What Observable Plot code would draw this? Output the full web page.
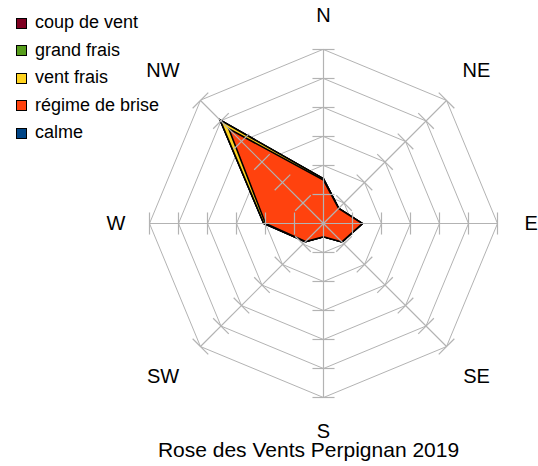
<!DOCTYPE html>
<html>
<head>
<meta charset="utf-8">
<script src="https://cdn.jsdelivr.net/npm/d3@7"></script>
<script src="https://cdn.jsdelivr.net/npm/@observablehq/plot@0.6"></script>
<style>
  body { margin: 0; background: #fff; font-family: "Liberation Sans", Arial, sans-serif; }
  #wrap { position: relative; width: 538px; height: 466px; overflow: hidden; }
  #legend { position: absolute; left: 0; top: 9px; }
  .item { position: relative; height: 27.5px; }
  .sw { position: absolute; left: 16px; top: 8.5px; width: 9px; height: 9px; border: 1px solid #000; }
  .lab { position: absolute; left: 35px; top: 0; line-height: 27.5px; font-size: 18px; color: #000; white-space: nowrap; }
  #title { position: absolute; left: 0; top: 444px; width: 617px; text-align: center; font-size: 21px; line-height: 12px; height: 22px; color: #000; white-space: nowrap; }
</style>
</head>
<body>
<div id="wrap">
  <div id="chart"></div>
  <div id="legend"></div>
  <div id="title"></div>
</div>
<script>
// ---- data ----
const title = "Rose des Vents Perpignan 2019";
const directions = ["N", "NE", "E", "SE", "S", "SW", "W", "NW"];
const seriesNames = ["calme", "régime de brise", "vent frais", "grand frais", "coup de vent"];
const calme        = [0, 0, 0, 0, 0, 0, 0, 0];
const regimeBrise  = [7.5, 3.7, 6.7, 4.5, 2.3, 4.4, 10.0, 23.1];
const ventFrais    = [0.2, 0, 0, 0, 0, 0, 0.3, 2.1];
const grandFrais   = [0, 0, 0, 0, 0, 0, 0, 0];
const coupDeVent   = [0, 0, 0, 0, 0, 0, 0, 0];
const ringValues = [5, 10, 15, 20, 25, 30];
const seriesColors = ["#004586", "#ff420e", "#ffd320", "#579d1c", "#7e0021"];

// ---- build ----
const seriesValues = [calme, regimeBrise, ventFrais, grandFrais, coupDeVent];
const rMax = 30;
const gridColor = "#b3b3b3";
const ang = i => i * Math.PI / 4;
const px = (r, i) => r * Math.sin(ang(i));
const py = (r, i) => r * Math.cos(ang(i));

// stacked cumulative polygons
const cum = [];
seriesValues.forEach((vals, k) => {
  cum.push(vals.map((v, i) => v + (k > 0 ? cum[k - 1][i] : 0)));
});

const polyMarks = [];
for (let k = seriesValues.length - 1; k >= 0; k--) {
  const pts = directions.map((d, i) => ({x: px(cum[k][i], i), y: py(cum[k][i], i)}));
  if (cum[k].every(v => v === 0)) continue;
  polyMarks.push(Plot.line(pts, {
    x: "x", y: "y", curve: "linear-closed",
    fill: seriesColors[k], stroke: "#000", strokeWidth: 1.6,
    strokeLinejoin: "miter", strokeMiterlimit: 6
  }));
}

const ringPts = [];
ringValues.forEach(r => directions.forEach((d, i) => ringPts.push({ring: r, x: px(r, i), y: py(r, i)})));

const axisLines = directions.map((d, i) => ({x1: 0, y1: 0, x2: px(rMax, i), y2: py(rMax, i)}));

const tickHalf = 1.9;
const ticks = [];
ringValues.forEach(r => directions.forEach((d, i) => {
  const cx = px(r, i), cy = py(r, i);
  const ux = Math.cos(ang(i)), uy = -Math.sin(ang(i));
  ticks.push({x1: cx - ux * tickHalf, y1: cy - uy * tickHalf, x2: cx + ux * tickHalf, y2: cy + uy * tickHalf});
}));

const labels = directions.map((d, i) => {
  const r = i % 2 === 0 ? 35.8 : 37.3;
  const shift = (i === 5 || i === 7) ? -1.3 : 0; // left-side diagonal labels sit further out
  return {label: d, x: px(r, i) + shift, y: py(r, i)};
});

const chart = Plot.plot({
  width: 538,
  height: 444,
  margin: 0,
  x: {domain: [-rMax, rMax], range: [149, 497], axis: null},
  y: {domain: [-rMax, rMax], range: [397, 49], axis: null},
  style: {fontFamily: "'Liberation Sans', Arial, sans-serif", background: "#fff"},
  marks: [
    Plot.line(ringPts, {x: "x", y: "y", z: "ring", curve: "linear-closed", stroke: gridColor, strokeWidth: 1, fill: "none"}),
    ...polyMarks,
    Plot.link(axisLines, {x1: "x1", y1: "y1", x2: "x2", y2: "y2", stroke: gridColor, strokeWidth: 1.2}),
    Plot.link(ticks, {x1: "x1", y1: "y1", x2: "x2", y2: "y2", stroke: gridColor, strokeWidth: 1.2}),
    Plot.text(labels, {x: "x", y: "y", text: "label", fontSize: 20, fill: "#000"})
  ]
});
document.getElementById("chart").appendChild(chart);

// legend (reverse order, as in reference)
const legend = document.getElementById("legend");
for (let k = seriesNames.length - 1; k >= 0; k--) {
  const it = document.createElement("div");
  it.className = "item";
  const sw = document.createElement("div");
  sw.className = "sw";
  sw.style.background = seriesColors[k];
  const lb = document.createElement("div");
  lb.className = "lab";
  lb.textContent = seriesNames[k];
  it.appendChild(sw); it.appendChild(lb);
  legend.appendChild(it);
}
document.getElementById("title").textContent = title;
</script>
</body>
</html>
